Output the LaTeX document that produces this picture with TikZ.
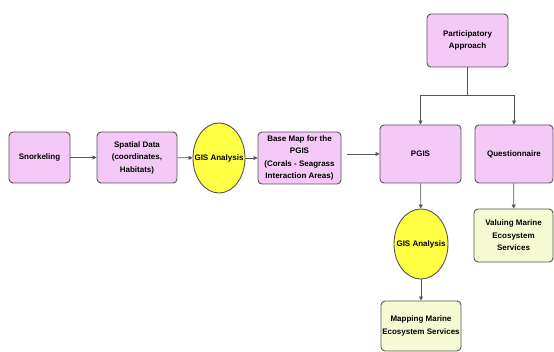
\documentclass[tikz,border=0pt]{standalone}
\usepackage{fontspec}
\setmainfont{Liberation Sans}
\usetikzlibrary{arrows.meta,shapes.geometric}
\definecolor{boxpink}{HTML}{F4C9F7}
\definecolor{boxyel}{HTML}{FFFF44}
\definecolor{boxpale}{HTML}{F6FAD2}
\definecolor{edge}{HTML}{555555}
\tikzset{
  lbl/.style={font=\fontsize{8}{12.5}\selectfont\bfseries, align=center, text=black},
  pinkbox/.style={lbl, rectangle, rounded corners=4pt, draw=edge, line width=0.9pt, fill=boxpink, inner sep=0pt},
  palebox/.style={lbl, rectangle, rounded corners=4pt, draw=edge, line width=0.9pt, fill=boxpale, inner sep=0pt},
  gisell/.style={lbl, ellipse, draw=edge, line width=0.9pt, fill=boxyel, inner sep=0pt},
  conn/.style={draw=edge, line width=0.8pt, -{Triangle[length=4pt,width=4pt]}},
  plain/.style={draw=edge, line width=0.8pt}
}
\begin{document}
\begin{tikzpicture}[x=1pt,y=-1pt]
\useasboundingbox (0,0) rectangle (554,352);
\node[pinkbox, minimum width=61pt, minimum height=51pt] (snork) at (39.5,157.5) {Snorkeling};
\node[pinkbox, minimum width=80pt, minimum height=51pt] (spatial) at (137,157.5) {Spatial Data\\(coordinates,\\Habitats)};
\node[gisell, minimum width=52pt, minimum height=70pt] (gis1) at (219,158) {\makebox[0pt]{GIS Analysis}};
\node[pinkbox, minimum width=83pt, minimum height=52pt] (base) at (299.5,158) {Base Map for the\\PGIS\\(Corals - Seagrass\\Interaction Areas)};
\node[pinkbox, minimum width=81pt, minimum height=58pt] (pgis) at (420.5,154) {PGIS};
\node[pinkbox, minimum width=78pt, minimum height=58pt] (quest) at (514,154) {Questionnaire};
\node[pinkbox, minimum width=81pt, minimum height=53pt] (part) at (467.5,40.5) {Participatory\\Approach};
\node[gisell, minimum width=54pt, minimum height=70pt] (gis2) at (421,244) {\makebox[0pt]{GIS Analysis}};
\node[palebox, minimum width=80pt, minimum height=50pt] (map) at (421,326) {Mapping Marine\\Ecosystem Services};
\node[palebox, minimum width=79pt, minimum height=53pt] (value) at (513.5,235.5) {Valuing Marine\\Ecosystem\\Services};
\coordinate (split) at (467.5,95);
\draw[conn] (snork) -- (spatial);
\draw[conn] (spatial) -- (gis1);
\draw[conn] (gis1) -- (base);
\draw[conn, shorten <=6pt] (base.east |- pgis.west) -- (pgis.west);
\draw[plain] (part.south) -- (split);
\draw[conn] (split) -| (pgis.north);
\draw[conn] (split) -| (quest.north);
\draw[conn] (pgis) -- (gis2);
\draw[conn] (gis2) -- (map);
\draw[conn] (quest) -- (value);
\end{tikzpicture}
\end{document}
